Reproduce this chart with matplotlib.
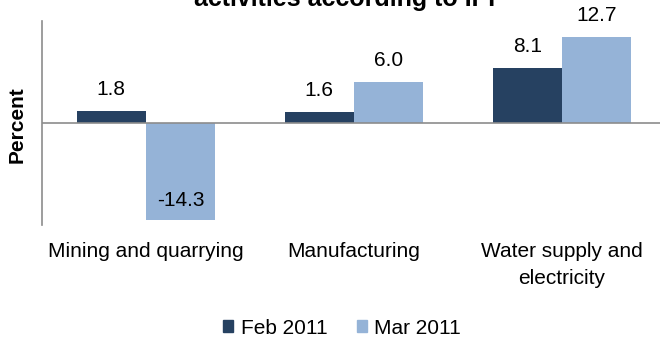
import matplotlib
matplotlib.use("Agg")
import matplotlib.pyplot as plt
import matplotlib.transforms as mtransforms
import numpy as np
from matplotlib.patches import Patch

categories = ["Mining and quarrying", "Manufacturing", "Water supply and\nelectricity"]
series_names = ["Feb 2011", "Mar 2011"]
feb = [1.8, 1.6, 8.1]
mar = [-14.3, 6.0, 12.7]
title = "Monthly growth rate of industrial\nactivities according to IPI"
ylabel = "Percent"

c_feb = "#264161"
c_mar = "#95B3D7"
grey = "#8C8C8C"

plt.rcParams['font.family'] = ['Liberation Sans', 'DejaVu Sans']
fs = 15

fig = plt.figure(figsize=(6.6, 3.43), dpi=100)
W, H = 660, 343
left, right = 42 / W, 666 / W
top, bottom = 1 - 21 / H, 1 - 225 / H
ax = fig.add_axes([left, bottom, right - left, top - bottom])

x = np.arange(len(categories))
bw = 1 / 3
b1 = ax.bar(x - bw / 2, feb, bw, color=c_feb, zorder=2)
b2 = ax.bar(x + bw / 2, mar, bw, color=c_mar, zorder=2)

ax.set_xlim(-0.5, len(categories) - 0.5)
ax.set_ylim(-15, 15)
ax.axhline(0, color=grey, lw=1.2, zorder=3)

for bars, vals in ((b1, feb), (b2, mar)):
    for rect, v in zip(bars, vals):
        cx = rect.get_x() + rect.get_width() / 2
        off = 11.5 if v >= 0 else 10
        ax.annotate(f"{v:.1f}", (cx, v), xytext=(0, off), textcoords="offset points",
                    ha="center", va="baseline", fontsize=fs, color="black")

for s in ["top", "right", "bottom"]:
    ax.spines[s].set_visible(False)
ax.spines["left"].set_color(grey)
ax.spines["left"].set_linewidth(1.2)
ax.set_yticks([])
ax.set_xticks([])

lab_tr = ax.get_xaxis_transform() + mtransforms.ScaledTranslation(0, -17 / 100, fig.dpi_scale_trans)
for xi, lab in zip(x, categories):
    ax.text(xi, 0, lab, transform=lab_tr, ha="center", va="top",
            fontsize=fs, linespacing=1.5, multialignment="center")

fig.text(17.5 / W, 1 - 125 / H, ylabel, rotation=90, ha="center", va="center",
         fontsize=fs, fontweight="bold")

fig.text(345 / W, 1 - 6 / H, title, ha="center", va="baseline", fontsize=18,
         fontweight="bold", linespacing=1.2)

handles = [Patch(color=c_feb), Patch(color=c_mar)]
fig.legend(handles, series_names, loc="center", bbox_to_anchor=(342 / W, 1 - 328 / H),
           ncol=2, frameon=False, fontsize=fs, handlelength=0.5, handleheight=0.5,
           handletextpad=0.35, columnspacing=1.4, borderaxespad=0)

fig.savefig("out.png", dpi=100)
